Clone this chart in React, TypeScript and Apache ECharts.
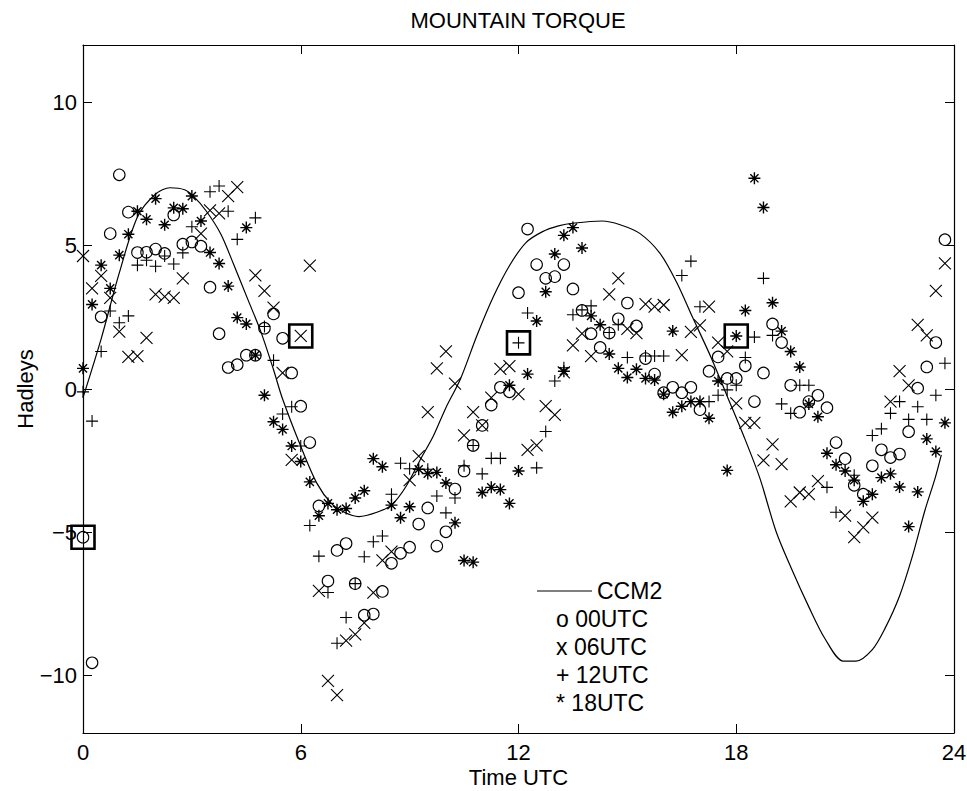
import React, { useEffect, useRef } from "react";
import * as echarts from "echarts";

const TITLE = "MOUNTAIN TORQUE";
const X_NAME = "Time UTC";
const Y_NAME = "Hadleys";
const X_TICKS = [0, 6, 12, 18, 24];
const Y_TICKS = [-10, -5, 0, 5, 10];
const LEGEND_LABELS = ["CCM2", "o 00UTC", "x 06UTC", "+ 12UTC", "* 18UTC"];

const ccm2 = [
  [0, -0.3], [0.5, 1.75], [1.0, 4.05], [1.5, 6.0], [2.0, 6.8], [2.4, 7.02], [2.8, 6.95],
  [3.05, 6.72], [3.4, 6.2], [3.8, 5.4], [4.15, 4.35], [4.55, 3.1], [4.9, 2.0], [5.25, 0.67],
  [5.5, -0.35], [6.0, -2.0], [6.45, -3.3], [6.85, -4.0], [7.2, -4.3], [7.6, -4.45], [8.1, -4.3],
  [8.5, -4.05], [8.9, -3.4], [9.3, -2.45], [9.65, -1.65], [10.0, -0.65], [10.4, 0.35], [10.85, 1.85],
  [11.3, 3.2], [11.75, 4.3], [12.2, 5.1], [12.65, 5.48], [13.1, 5.69], [13.55, 5.79], [14.3, 5.86],
  [14.8, 5.73], [15.35, 5.42], [15.9, 4.73], [16.35, 3.74], [16.8, 2.49], [17.3, 1.12], [17.75, -0.25],
  [18.2, -1.62], [18.65, -3.11], [19.1, -4.98], [19.55, -6.35], [20.0, -7.6], [20.45, -8.72],
  [20.95, -9.49], [21.3, -9.49], [21.75, -9.09], [22.1, -8.35], [22.5, -7.22], [22.85, -5.85],
  [23.2, -4.23], [23.48, -3.11], [23.65, -2.3],
];

const utc00 = [
  [0, -5.17], [0.25, -9.55], [0.5, 2.52], [0.75, 5.42], [1.0, 7.47], [1.25, 6.17], [1.5, 4.76],
  [1.75, 4.77], [2.0, 4.88], [2.25, 4.73], [2.5, 6.07], [2.75, 5.05], [3.0, 5.13], [3.25, 4.98],
  [3.5, 3.55], [3.75, 1.93], [4.0, 0.75], [4.25, 0.85], [4.5, 1.18], [4.75, 1.18], [5.0, 2.12],
  [5.25, 2.62], [5.5, 1.77], [5.75, 0.56], [6.0, -0.6], [6.25, -1.87], [6.5, -4.08], [6.75, -6.7],
  [7.0, -5.63], [7.25, -5.39], [7.5, -6.79], [7.75, -7.89], [8.0, -7.85], [8.25, -7.06], [8.5, -6.08],
  [8.75, -5.73], [9.0, -5.52], [9.25, -4.71], [9.5, -4.15], [9.75, -5.48], [10.0, -4.98], [10.25, -3.49],
  [10.5, -2.86], [10.75, -1.97], [11.0, -1.27], [11.25, -0.56], [11.5, 0.06], [11.75, -0.1], [12.0, 3.36],
  [12.25, 5.58], [12.5, 4.34], [12.75, 3.86], [13.0, 3.92], [13.25, 4.34], [13.5, 3.49], [13.75, 2.74],
  [14.0, 1.93], [14.25, 1.45], [14.5, 1.95], [14.75, 2.45], [15.0, 3.0], [15.25, 2.2], [15.5, 1.06],
  [15.75, 0.52], [16.0, -0.13], [16.25, 0.06], [16.5, -0.13], [16.75, 0.06], [17.0, -0.72], [17.25, 0.62],
  [17.5, 1.12], [17.75, 0.37], [18.0, 0.37], [18.25, 0.81], [18.5, -0.44], [18.75, 0.56], [19.0, 2.27],
  [19.25, 1.62], [19.5, 0.13], [19.75, -0.81], [20.0, -0.44], [20.25, -0.22], [20.5, -0.65], [20.75, -1.87],
  [21.0, -2.43], [21.25, -3.36], [21.5, -3.67], [21.75, -2.68], [22.0, -2.12], [22.25, -2.39], [22.5, -2.27],
  [22.75, -1.49], [23.0, 0.03], [23.25, 0.77], [23.5, 1.62], [23.75, 5.21],
];

const utc06 = [
  [0, 4.64], [0.25, 3.51], [0.5, 3.95], [0.75, 3.18], [1.0, 2.0], [1.25, 1.12], [1.5, 1.15], [1.75, 1.78],
  [2.0, 3.3], [2.25, 3.22], [2.5, 3.18], [2.75, 3.86], [3.25, 5.42], [3.5, 6.23], [3.75, 6.13], [4.0, 6.73],
  [4.25, 7.04], [4.75, 3.96], [5.0, 3.42], [5.25, 2.84], [5.5, 0.56], [5.75, -2.47], [6.0, 1.85], [6.25, 4.3],
  [6.5, -7.04], [6.75, -10.18], [7.0, -10.68], [7.25, -8.78], [7.5, -8.56], [7.75, -8.16], [8.0, -7.1],
  [8.25, -5.98], [8.5, -5.67], [9.0, -3.18], [9.25, -2.34], [9.5, -0.81], [9.75, 0.72], [10.0, 1.31],
  [10.25, 0.19], [10.5, -1.62], [10.75, -0.81], [11.0, -1.27], [11.25, -0.3], [11.5, 0.7], [11.75, 0.8],
  [12.0, -0.18], [12.25, -2.12], [12.5, -1.97], [12.75, -0.6], [13.0, -0.9], [13.25, 0.58], [13.5, 1.52],
  [13.75, 1.93], [14.0, 1.15], [14.5, 3.3], [14.75, 3.86], [15.0, 2.1], [15.25, 1.95], [15.5, 2.96],
  [15.75, 2.87], [16.0, 2.93], [16.5, 1.18], [16.75, 1.99], [17.0, 2.22], [17.25, 2.87], [17.5, 1.62],
  [17.75, 1.31], [18.0, -0.5], [18.25, -1.18], [18.5, -1.18], [18.75, -2.49], [19.0, -1.93], [19.25, -2.62],
  [19.5, -3.92], [19.75, -3.61], [20.0, -3.67], [20.25, -3.21], [21.0, -4.42], [21.25, -5.17], [21.5, -4.83],
  [21.75, -4.49], [22.25, -0.44], [22.5, 0.62], [22.75, 0.13], [23.0, 2.24], [23.25, 1.87], [23.5, 3.42],
  [23.75, 4.38],
];

const utc12 = [
  [0, -0.1], [0.25, -1.12], [0.5, 1.31], [0.75, 2.72], [1.0, 2.31], [1.25, 2.55], [1.5, 4.32], [1.75, 4.49],
  [2.0, 4.28], [2.25, 4.64], [2.5, 4.36], [2.75, 4.75], [3.0, 5.66], [3.5, 6.88], [3.75, 7.08], [4.0, 6.2],
  [4.25, 5.22], [4.75, 5.97], [5.0, 2.18], [5.25, 1.0], [5.5, -0.87], [5.75, -0.62], [6.0, -1.99],
  [6.25, -4.76], [6.5, -5.83], [6.75, -7.1], [7.0, -8.87], [7.25, -7.97], [7.5, -6.79], [7.75, -5.85],
  [8.0, -5.33], [8.25, -5.13], [8.5, -3.67], [8.75, -2.59], [9.0, -2.78], [9.5, -2.8], [9.75, -3.73],
  [10.0, -4.32], [10.25, -3.8], [10.5, -2.68], [10.75, -1.97], [11.0, -2.96], [11.25, -2.42], [11.5, -2.42],
  [12.0, 1.61], [12.25, 2.65], [12.5, -2.75], [12.75, -1.48], [13.0, 0.28], [13.25, 0.74], [13.5, 2.59],
  [13.75, 2.76], [14.0, 2.9], [14.5, 1.97], [14.75, 2.24], [15.0, 1.1], [15.5, 1.15], [15.75, 1.15],
  [16.0, 1.15], [16.5, 3.96], [16.75, 4.46], [17.0, 2.87], [17.25, -0.44], [17.5, -0.22], [17.75, -0.03],
  [18.0, 0.13], [18.25, 1.1], [18.5, 1.81], [18.75, 3.86], [19.0, 1.87], [19.25, -0.52], [19.5, -0.85],
  [19.75, 0.13], [20.0, 0.13], [20.5, -3.43], [20.75, -4.3], [21.25, -3.01], [21.75, -1.62], [22.0, -1.39],
  [22.25, -0.85], [22.5, -0.44], [22.75, -1.06], [23.0, -0.62], [23.25, -1.06], [23.5, -0.22], [23.75, 0.9],
];

const utc18 = [
  [0, 0.72], [0.25, 2.95], [0.5, 4.32], [0.75, 3.51], [1.0, 4.67], [1.25, 5.4], [1.5, 6.2], [1.75, 5.92],
  [2.0, 6.64], [2.25, 5.73], [2.5, 6.32], [2.75, 6.29], [3.0, 6.73], [3.25, 5.86], [3.5, 4.76], [3.75, 4.38],
  [4.0, 3.59], [4.25, 2.49], [4.5, 2.27], [4.5, 5.63], [4.75, 1.18], [5.0, -0.22], [5.25, -1.14],
  [5.5, -1.41], [5.75, -1.99], [6.0, -2.53], [6.25, -3.24], [6.5, -4.42], [6.75, -3.99], [7.0, -4.21],
  [7.25, -4.17], [7.5, -3.8], [7.75, -3.55], [8.0, -2.43], [8.25, -2.71], [8.5, -4.05], [8.75, -4.49],
  [9.0, -4.11], [9.25, -2.8], [9.5, -2.95], [9.75, -2.91], [10.0, -3.28], [10.25, -4.67], [10.5, -5.98],
  [10.75, -6.04], [11.0, -3.61], [11.25, -3.43], [11.5, -3.51], [11.75, -3.99], [11.75, 0.13], [12.0, -2.86],
  [12.25, 0.52], [12.5, 2.37], [12.75, 3.39], [13.0, 4.71], [13.25, 5.36], [13.25, 0.62], [13.5, 5.63],
  [13.75, 4.92], [14.0, 2.55], [14.25, 2.24], [14.5, 1.22], [14.75, 0.72], [15.0, 0.4], [15.25, 0.69],
  [15.5, 0.37], [15.75, 0.31], [16.0, -0.18], [16.25, -0.81], [16.25, 2.02], [16.5, -0.6], [16.75, -0.44],
  [17.0, -0.44], [17.25, -1.02], [17.5, 0.28], [17.75, -2.84], [18.0, 1.85], [18.25, 2.74], [18.5, 7.35],
  [18.75, 6.33], [19.0, 3.01], [19.25, 2.02], [19.5, 1.31], [19.75, 0.77], [20.0, -0.52], [20.25, -0.97],
  [20.5, -2.24], [20.75, -2.64], [21.0, -2.86], [21.25, -3.18], [21.5, -3.92], [21.75, -3.67], [22.0, -3.09],
  [22.25, -2.96], [22.5, -3.42], [22.75, -4.8], [23.0, -3.59], [23.25, -1.74], [23.5, -2.18], [23.75, -1.18],
];

const boxed = [[0, -5.17], [6.0, 1.85], [12.0, 1.61], [18.0, 1.85]];

const FONT = "'Liberation Sans', Arial, Helvetica, sans-serif";
const X_SYM = "path://M0,0L10,10M10,0L0,10";
const PLUS_SYM = "path://M5,0L5,10M0,5L10,5";
const STAR_SYM = "path://M5,0L5,10M0,5L10,5M1.6,1.6L8.4,8.4M8.4,1.6L1.6,8.4";

const markerSeries = (name: string, data: number[][], symbol: string, size: number, bw = 1) => ({
  name,
  type: "scatter",
  data,
  symbol,
  symbolSize: size,
  silent: true,
  itemStyle: { color: "rgba(0,0,0,0)", borderColor: "#000", borderWidth: bw, opacity: 1 },
  z: 3,
});

const fmt = (v: number) => (v < 0 ? "\u2212" + Math.abs(v) : String(v));

export default function App() {
  const ref = useRef<HTMLDivElement>(null);
  useEffect(() => {
    if (!ref.current) return;
    const chart = echarts.init(ref.current, undefined, { renderer: "svg" });
    const axisCommon = {
      axisLine: { show: true, onZero: false, lineStyle: { color: "#000", width: 1.2 } },
      splitLine: { show: false },
    };
    const legendX = 556;
    const legendY0 = 591;
    const legendDy = 28;
    const textStyle = (x: number, y: number, text: string) => ({
      type: "text",
      x,
      y,
      silent: true,
      style: { text, fill: "#000", font: `23px ${FONT}`, align: "left", verticalAlign: "middle" },
    });
    chart.setOption({
      animation: false,
      backgroundColor: "#fff",
      grid: { left: 83, right: 13, top: 45, bottom: 58, containLabel: false, outerBoundsMode: "none" },
      xAxis: [
        {
          type: "value", min: 0, max: 24, interval: 6, position: "bottom",
          ...axisCommon,
          axisTick: { show: true, inside: true, length: 9, lineStyle: { color: "#000" } },
          axisLabel: { color: "#000", fontSize: 22, fontFamily: FONT, margin: 8, formatter: fmt },
          name: X_NAME, nameLocation: "middle", nameGap: 33, nameMoveOverlap: false,
          nameTextStyle: { color: "#000", fontSize: 22, fontFamily: FONT },
        },
        {
          type: "value", min: 0, max: 24, interval: 6, position: "top",
          ...axisCommon,
          axisTick: { show: true, inside: true, length: 9, lineStyle: { color: "#000" } },
          axisLabel: { show: false },
        },
      ],
      yAxis: [
        {
          type: "value", min: -12, max: 12, position: "left",
          ...axisCommon,
          axisTick: { show: true, inside: true, length: 9, customValues: Y_TICKS, lineStyle: { color: "#000" } },
          axisLabel: { color: "#000", fontSize: 22, fontFamily: FONT, margin: 6, customValues: Y_TICKS, formatter: fmt },
          name: Y_NAME, nameLocation: "middle", nameGap: 47, nameRotate: 90, nameMoveOverlap: false,
          nameTextStyle: { color: "#000", fontSize: 22, fontFamily: FONT },
        },
        {
          type: "value", min: -12, max: 12, position: "right",
          ...axisCommon,
          axisTick: { show: true, inside: true, length: 9, customValues: Y_TICKS, lineStyle: { color: "#000" } },
          axisLabel: { show: false },
        },
      ],
      series: [
        {
          name: "CCM2",
          type: "line",
          data: ccm2,
          showSymbol: false,
          symbol: "none",
          smooth: 0.3,
          silent: true,
          lineStyle: { color: "#000", width: 1.2 },
          z: 2,
        },
        markerSeries("00UTC", utc00, "circle", 11.5, 1.1),
        markerSeries("06UTC", utc06, X_SYM, 12, 1.1),
        markerSeries("12UTC", utc12, PLUS_SYM, 12, 1.1),
        markerSeries("18UTC", utc18, STAR_SYM, 12, 1.4),
        markerSeries("boxed", boxed, "rect", 23, 2.6),
      ],
      graphic: [
        {
          type: "text", x: 518, y: 20, silent: true,
          style: { text: TITLE, fill: "#000", font: `22px ${FONT}`, align: "center", verticalAlign: "middle" },
        },
        {
          type: "line", silent: true,
          shape: { x1: 537, y1: legendY0, x2: 592, y2: legendY0 },
          style: { stroke: "#000", lineWidth: 1.2 },
        },
        textStyle(597, legendY0, LEGEND_LABELS[0]),
        textStyle(legendX, legendY0 + legendDy, LEGEND_LABELS[1]),
        textStyle(legendX, legendY0 + 2 * legendDy, LEGEND_LABELS[2]),
        textStyle(legendX, legendY0 + 3 * legendDy, LEGEND_LABELS[3]),
        textStyle(legendX, legendY0 + 4 * legendDy, LEGEND_LABELS[4]),
      ],
    });
    return () => chart.dispose();
  }, []);
  return (
    <div
      ref={ref}
      style={{ position: "fixed", left: 0, top: 0, width: 967, height: 791, background: "#fff" }}
    />
  );
}
